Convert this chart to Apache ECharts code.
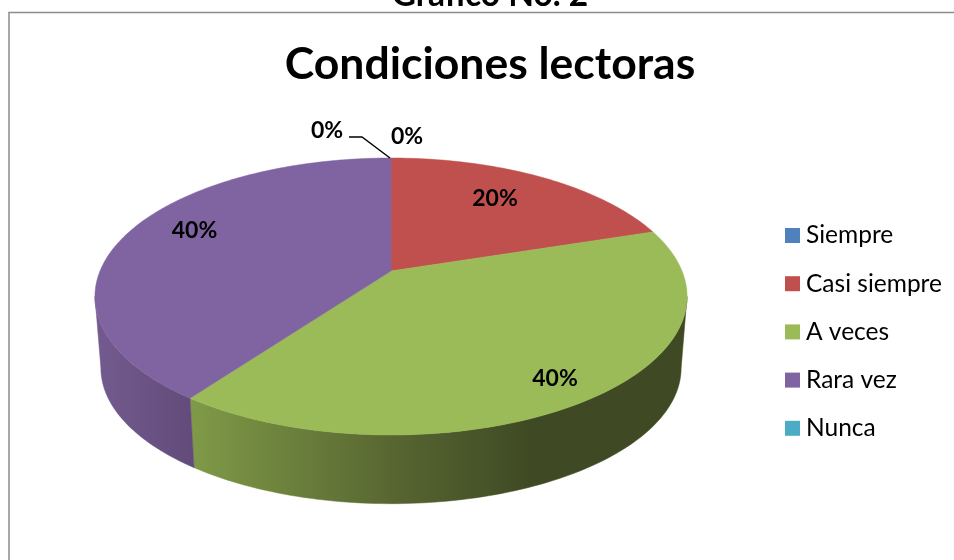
<!DOCTYPE html>
<html>
<head>
<meta charset="utf-8">
<style>html,body{margin:0;padding:0;background:#fff}#c{width:954px;height:560px}</style>
<script src="https://cdn.jsdelivr.net/npm/echarts@6/dist/echarts.min.js"></script>
</head>
<body>
<div id="c"></div>
<script>
var categories = ['Siempre', 'Casi siempre', 'A veces', 'Rara vez', 'Nunca'];
var values = [0, 20, 40, 40, 0];
var colors = ['#4f81bd', '#c0504d', '#9bbb59', '#8064a2', '#4bacc6'];
var chartTitle = 'Condiciones lectoras';
var pageHeading = 'Gráfico No. 2';

// layout of the tilted pie (perspective projection of a circle)
var GEO = {cx: 391, topY: 271, a: 291, b: 133.8, k: 0.184, wallY: 343, wallScale: 0.98};
var labelAnchors = [[407, 137], [495, 199], [555, 379], [194.5, 231], [327, 131]];
var wallFills = [
  null,
  null,
  {x: 191, x2: 530, stops: [[0, '#7f9a47'], [0.62, '#566430'], [1, '#3f4a24']]},
  {x: 100, x2: 191, stops: [[0, '#725a8e'], [1, '#634c7b']]},
  null
];

var total = values.reduce(function (s, v) { return s + v; }, 0);
// the side wall only shows between the two points where the top ellipse is widest
var wallStart = Math.acos(-GEO.k) / (2 * Math.PI);
var wallEnd = 1 - wallStart;

function project(share, r, baseY, scale) {
  var t = share * 2 * Math.PI, s = Math.sin(t) * r, c = Math.cos(t) * r;
  var d = 1 + GEO.k * c;
  return [GEO.cx + scale * GEO.a * s / d, baseY - scale * GEO.b * c / d];
}

function arc(from, to, baseY, scale) {
  var n = Math.max(2, Math.ceil((to - from) * 300)), pts = [];
  for (var i = 0; i <= n; i++) pts.push(project(from + (to - from) * i / n, 1, baseY, scale));
  return pts;
}

function renderSlice(idx) {
  return function (params, api) {
    var value = api.value(0), start = api.value(1), share = value / total;
    var children = [];
    if (share > 0) {
      var from = start / total, to = from + share;
      var wFrom = Math.max(from, wallStart), wTo = Math.min(to, wallEnd);
      if (wTo > wFrom) {
        var w = wallFills[idx];
        var wallColor = w ? {
          type: 'linear', x: w.x, y: 0, x2: w.x2, y2: 0, global: true,
          colorStops: w.stops.map(function (p) { return {offset: p[0], color: p[1]}; })
        } : colors[idx];
        children.push({
          type: 'polygon', z2: 1,
          shape: {points: arc(wFrom, wTo, GEO.topY, 1).concat(arc(wFrom, wTo, GEO.wallY, GEO.wallScale).reverse())},
          style: {fill: wallColor, stroke: wallColor, lineWidth: 0.5}
        });
      }
      children.push({
        type: 'polygon', z2: 2,
        shape: {points: [[GEO.cx, GEO.topY]].concat(arc(from, to, GEO.topY, 1))},
        style: {fill: colors[idx], stroke: colors[idx], lineWidth: 0.5}
      });
    }
    var anchor = labelAnchors[idx];
    children.push({
      type: 'text', z2: 5,
      style: {
        x: anchor[0], y: anchor[1],
        text: Math.round(share * 100) + '%',
        fill: '#000', align: 'center', verticalAlign: 'middle',
        font: 'bold 23px Lato, "Open Sans", sans-serif'
      }
    });
    return {type: 'group', children: children};
  };
}

var running = 0;
var series = categories.map(function (name, i) {
  var row = [values[i], running];
  running += values[i];
  return {
    type: 'custom',
    name: name,
    coordinateSystem: 'none',
    renderItem: renderSlice(i),
    itemStyle: {color: colors[i]},
    data: [row],
    silent: true
  };
});

var chart = echarts.init(document.getElementById('c'), null, {renderer: 'canvas'});
chart.setOption({
  animation: false,
  backgroundColor: '#fff',
  color: colors,
  title: [
    {text: chartTitle, left: 485, top: 34, textAlign: 'center',
      textStyle: {color: '#000', fontFamily: 'Lato, "Open Sans", sans-serif', fontWeight: 'bold', fontSize: 44.5, lineHeight: 52}},
    {text: pageHeading, left: 485, top: -28, textAlign: 'center',
      textStyle: {color: '#000', fontFamily: 'Lato, "Open Sans", sans-serif', fontWeight: 'bold', fontSize: 33.5, lineHeight: 36}}
  ],
  legend: {
    orient: 'vertical', left: 780, top: 218,
    itemWidth: 15, itemHeight: 15, itemGap: 23.2,
    icon: 'rect',
    data: categories,
    selectedMode: false,
    textStyle: {color: '#000', fontFamily: 'Lato, "Open Sans", sans-serif', fontSize: 24.5, padding: [0, 0, 0, 1]}
  },
  graphic: [
    {type: 'rect', silent: true, z: 0, shape: {x: 9, y: 12.5, width: 1100, height: 700},
      style: {fill: 'none', stroke: '#8c8c8c', lineWidth: 1.5}},
    {type: 'polyline', silent: true, z: 10, shape: {points: [[349, 137], [362, 137], [390, 158]]},
      style: {fill: 'none', stroke: '#000', lineWidth: 1.4}}
  ],
  series: series
});
</script>
</body>
</html>
